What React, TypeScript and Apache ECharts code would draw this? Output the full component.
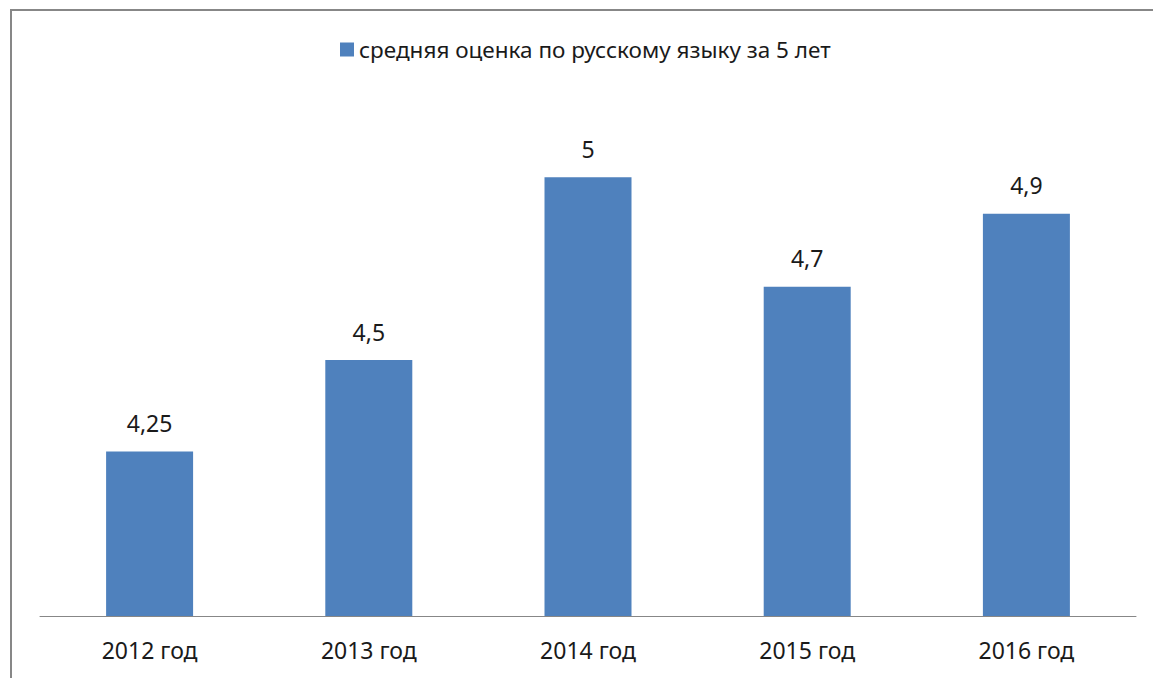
import React, { useEffect, useRef } from "react";
import * as echarts from "echarts";

const categories = ["2012 год", "2013 год", "2014 год", "2015 год", "2016 год"];
const values = [4.25, 4.5, 5, 4.7, 4.9];
const seriesName = "средняя оценка по русскому языку за 5 лет";
const yMin = 3.8;
const yMax = 5.2;
const yStep = 0.2;

const FONT = "'Noto Sans', 'Open Sans', sans-serif";

export default function App() {
  const ref = useRef<HTMLDivElement>(null);
  useEffect(() => {
    if (!ref.current) return;
    const chart = echarts.init(ref.current, undefined, { renderer: "svg" });
    chart.setOption({
      animation: false,
      backgroundColor: "#ffffff",
      textStyle: { fontFamily: FONT },
      graphic: [
        {
          type: "rect",
          shape: { x: 11, y: 10, width: 1200, height: 700 },
          style: { fill: "none", stroke: "#878787", lineWidth: 2 },
          silent: true,
        },
      ],
      legend: {
        show: true,
        left: 335,
        top: 33,
        icon: "rect",
        itemWidth: 14,
        itemHeight: 14,
        textStyle: { fontFamily: FONT, fontSize: 22.5, color: "#1a1a1a" },
        data: [seriesName],
      },
      grid: { left: 40, right: 17, top: 104, bottom: 62, containLabel: false },
      xAxis: {
        type: "category",
        data: categories,
        axisLine: { show: true, lineStyle: { color: "#878787", width: 1 } },
        axisTick: { show: false },
        axisLabel: {
          margin: 22,
          fontFamily: FONT,
          fontSize: 23,
          color: "#1a1a1a",
        },
      },
      yAxis: {
        type: "value",
        min: yMin,
        max: yMax,
        interval: yStep,
        show: false,
        splitLine: { show: false },
      },
      series: [
        {
          name: seriesName,
          type: "bar",
          data: values,
          barWidth: 87,
          itemStyle: { color: "#4F81BD" },
          label: {
            show: true,
            position: "top",
            distance: 17,
            fontFamily: FONT,
            fontSize: 23,
            color: "#1a1a1a",
            formatter: (p: any) => String(p.value).replace(".", ","),
          },
        },
      ],
    });
    return () => chart.dispose();
  }, []);
  return (
    <div
      ref={ref}
      style={{ position: "fixed", left: 0, top: 0, width: 1153, height: 678 }}
    />
  );
}
